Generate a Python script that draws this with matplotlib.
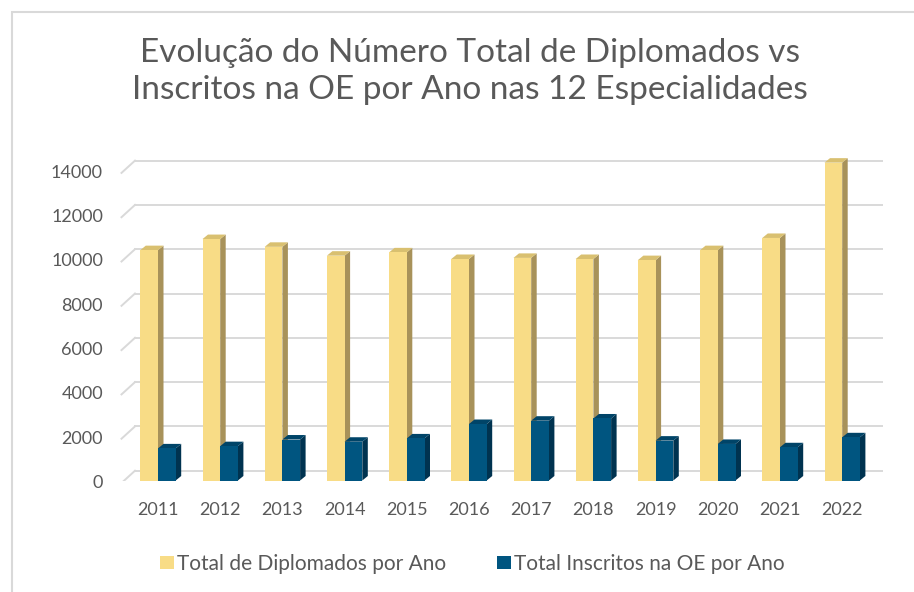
import numpy as np
import matplotlib
matplotlib.use("Agg")
import matplotlib.pyplot as plt
from matplotlib.patches import Polygon, Rectangle, Patch
from matplotlib.lines import Line2D

years = ["2011", "2012", "2013", "2014", "2015", "2016", "2017", "2018", "2019", "2020", "2021", "2022"]
diplomados = [10400, 10900, 10550, 10150, 10300, 10000, 10050, 10000, 9950, 10400, 10950, 14350]
inscritos = [1450, 1550, 1850, 1750, 1900, 2550, 2700, 2800, 1800, 1650, 1500, 1950]
yticks = [0, 2000, 4000, 6000, 8000, 10000, 12000, 14000]

title = "Evolução do Número Total de Diplomados vs\nInscritos na OE por Ano nas 12 Especialidades"
labels = ["Total de Diplomados por Ano", "Total Inscritos na OE por Ano"]

FONT = "Lato"
plt.rcParams["font.family"] = [FONT, "DejaVu Sans"]
TXT = "#595959"
GRID = "#d9d9d9"
YEL_F, YEL_S, YEL_T = "#f8dc86", "#a8925a", "#d9c070"
BLU_F, BLU_S, BLU_T = "#005580", "#003350", "#004468"

W, H = 914, 592
fig = plt.figure(figsize=(W / 100, H / 100), dpi=100)
fig.patch.set_facecolor("white")

# outer chart border (only top/left visible in reference)
fig.add_artist(Rectangle((11.5 / W, -0.05), 1.2, 1 - 11.5 / H + 0.05, transform=fig.transFigure,
                         fill=False, edgecolor=GRID, lw=1.5))

x_left_px, x_right_px = 120, 885
y0_px, ytop_px = 480.5, 148.25
ax = fig.add_axes([x_left_px / W, (H - y0_px) / H, (x_right_px - x_left_px) / W, (y0_px - ytop_px) / H])
ymax = 15000
ax.set_ylim(0, ymax)
cat_px = 62.2
x0 = (x_left_px - 158) / cat_px
x1 = (x_right_px - 158) / cat_px
ax.set_xlim(x0, x1)
for s in ax.spines.values():
    s.set_visible(False)
ax.set_xticks([])
ax.set_yticks([])

px_per_unit = (y0_px - ytop_px) / ymax
def ypx(p):
    return p / px_per_unit
def xpx(p):
    return p / cat_px

back = ypx(9.8)
front_drop = ypx(2.5)

# back-wall gridlines with slanted floor/side lead-ins
gx0 = xpx(135 - 158)
gx1 = xpx(882 - 158)
sx0 = xpx(121.5 - 158)
for v in yticks:
    ax.add_line(Line2D([gx0, gx1], [v + back, v + back], color=GRID, lw=1.4, zorder=1))
    ax.add_line(Line2D([sx0, gx0], [v - front_drop, v + back], color=GRID, lw=1.4, zorder=1))
    ax.text(xpx(103 - 158), v - front_drop, f"{v}", ha="right", va="center",
            fontsize=13, color=TXT)

x = np.arange(len(years))
w = xpx(17.7)
dx = xpx(5.5)
dy = ypx(4.5)

def draw_bar(xc, v, cf, cs, ct, z):
    xl, xr = xc - w / 2, xc + w / 2
    ax.add_patch(Polygon([(xr, 0), (xr + dx, dy), (xr + dx, v + dy), (xr, v)],
                         closed=True, facecolor=cs, edgecolor="none", zorder=z))
    ax.add_patch(Polygon([(xl, v), (xl + dx, v + dy), (xr + dx, v + dy), (xr, v)],
                         closed=True, facecolor=ct, edgecolor="none", zorder=z))

for i in range(len(years)):
    draw_bar(x[i] - w / 2, diplomados[i], YEL_F, YEL_S, YEL_T, 2 + i * 2)
    ax.bar(x[i] - w / 2, diplomados[i], width=w, color=YEL_F, zorder=2 + i * 2 + 0.5, linewidth=0)
    draw_bar(x[i] + w / 2, inscritos[i], BLU_F, BLU_S, BLU_T, 3 + i * 2)
    ax.bar(x[i] + w / 2, inscritos[i], width=w, color=BLU_F, zorder=3 + i * 2 + 0.5, linewidth=0)

for i, yr in enumerate(years):
    ax.text(x[i], -ypx(29.5), yr, ha="center", va="center", fontsize=13, color=TXT)

fig.text(470 / W, 1 - 71.5 / H, title, ha="center", va="center", fontsize=24, color=TXT,
         linespacing=1.32)

handles = [Patch(facecolor=YEL_F, edgecolor="none"), Patch(facecolor=BLU_F, edgecolor="none")]
fig.legend(handles, labels, loc="center", bbox_to_anchor=(472.5 / W, 1 - 564 / H), ncol=2,
           frameon=False, fontsize=15, labelcolor=TXT, handlelength=0.67, handleheight=0.63,
           handletextpad=0.15, columnspacing=2.45)

fig.savefig("out.png", dpi=100, facecolor="white")
